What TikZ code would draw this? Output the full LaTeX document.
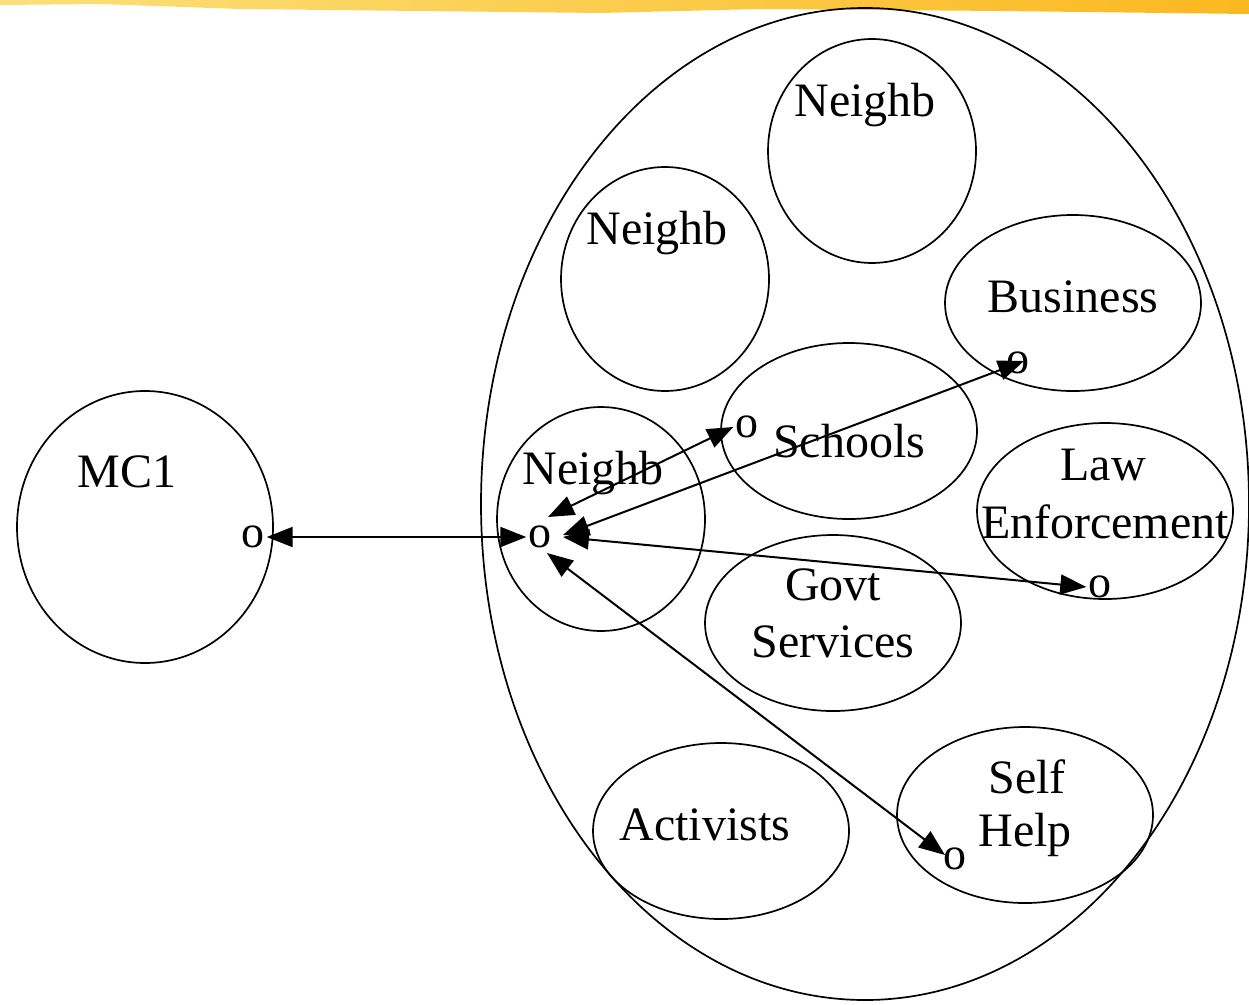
\documentclass[tikz,border=0pt]{standalone}
\usepackage{fontspec}
\setmainfont{Liberation Serif}
\usetikzlibrary{shapes.geometric,arrows.meta}
\definecolor{bandL}{HTML}{FBE07A}
\definecolor{bandR}{HTML}{FBB820}
\begin{document}
\begin{tikzpicture}[x=1pt,y=-1pt,
  blob/.style={draw,ellipse,line width=1.7pt,inner sep=0pt},
  lbl/.style={font=\fontsize{48}{54}\selectfont,inner sep=0pt,align=center},
  pt/.style={font=\fontsize{46}{50}\selectfont,inner sep=2pt},
  link/.style={line width=2pt,{Triangle[length=26pt,width=20pt]}-{Triangle[length=26pt,width=20pt]}}]
\useasboundingbox (0,0) rectangle (1249,1004);
% top band
\shade[left color=bandL,right color=bandR,draw=none]
  (0,0) -- (1249,0) -- (1249,14) -- (1000,11) -- (760,9) -- (600,13) -- (420,11) -- (240,9) -- (100,4) -- (0,5) -- cycle;
% ellipses
\node[blob,minimum width=768pt,minimum height=992pt] (big) at (865,504) {};
\node[blob,minimum width=256pt,minimum height=272pt] (mc) at (145,527) {};
\node[blob,minimum width=208pt,minimum height=224pt] (n1) at (872,151) {};
\node[blob,minimum width=208pt,minimum height=224pt] (n2) at (665,279) {};
\node[blob,minimum width=256pt,minimum height=176pt] (bu) at (1073,303) {};
\node[blob,minimum width=256pt,minimum height=176pt] (sc) at (849,431) {};
\node[blob,minimum width=208pt,minimum height=224pt] (n3) at (601,519) {};
\node[blob,minimum width=256pt,minimum height=176pt] (le) at (1105,511) {};
\node[blob,minimum width=256pt,minimum height=176pt] (gs) at (833,623) {};
\node[blob,minimum width=256pt,minimum height=176pt] (ac) at (721,831) {};
\node[blob,minimum width=256pt,minimum height=176pt] (sh) at (1025,815) {};
% labels
\node[lbl] (tn1) at (865,105) {Neighb};
\node[lbl] (tn2) at (657,233) {Neighb};
\node[lbl] (tbu) at (1073,297) {Business};
\node[lbl] (tsc) at (849,441) {Schools};
\node[lbl] (tn3) at (593,473) {Neighb};
\node[lbl] (tle1) at (1103,465) {Law};
\node[lbl] (tle2) at (1105,522) {Enforcement};
\node[lbl] (tgs1) at (833,585) {Govt};
\node[lbl] (tgs2) at (833,642) {Services};
\node[lbl] (tac) at (705,825) {Activists};
\node[lbl] (tsh1) at (1027,777) {Self};
\node[lbl] (tsh2) at (1025,835) {Help};
\node[lbl] (tmc) at (127,472) {MC1};
% points
\node[pt] (pm) at (253,537) {o};
\node[pt] (pc) at (540,537) {o};
\node[pt] (ps) at (747,427) {o};
\node[pt] (pb) at (1018,363) {o};
\node[pt] (pl) at (1100,587) {o};
\node[pt] (ph) at (955,859) {o};
% connectors
\draw[link] (pm.east) -- (pc.west);
\draw[link] ([shift={(8,-20)}]pc.center) -- (ps.west);
\draw[link] ([shift={(23,-2)}]pc.center) -- ([shift={(6,-2)}]pb.center);
\draw[link] ([shift={(23,0)}]pc.center) -- (pl.west);
\draw[link] ([shift={(7,16)}]pc.center) -- ([shift={(-10,-4)}]ph.center);
\end{tikzpicture}
\end{document}
